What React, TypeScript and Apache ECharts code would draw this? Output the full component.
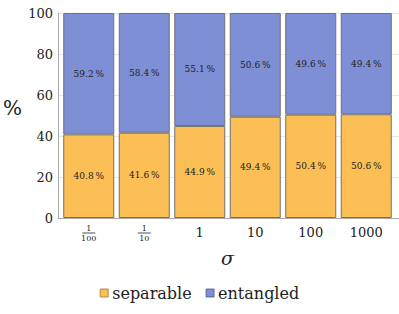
import React, { useEffect, useRef } from "react";
import * as echarts from "echarts";

const categories = ["1/100", "1/10", "1", "10", "100", "1000"];
const separable = [40.8, 41.6, 44.9, 49.4, 50.4, 50.6];
const entangled = [59.2, 58.4, 55.1, 50.6, 49.6, 49.4];

const FONT = "DejaVu Serif";

function labelFor(c: string): string {
  if (c.includes("/")) {
    const [n, d] = c.split("/");
    return `{n|${n}}\n{bar|}\n{d|${d}}`;
  }
  return `{m|${c}}`;
}

export default function App() {
  const ref = useRef<HTMLDivElement>(null);
  useEffect(() => {
    if (!ref.current) return;
    const chart = echarts.init(ref.current, null, { renderer: "svg" });
    const pct = (p: any) => `${Number(p.value).toFixed(1)}\u2009%`;
    const lbl = { show: true, position: "inside", formatter: pct, fontFamily: FONT, fontSize: 9, color: "#222" };
    chart.setOption({
      animation: false,
      textStyle: { fontFamily: FONT },
      grid: [
        { left: 50, right: 0, top: 13, bottom: 96 },
        { left: 61, right: 5, top: 13, bottom: 96 },
      ],
      legend: {
        top: 280,
        left: "center",
        itemWidth: 8,
        itemHeight: 8,
        itemGap: 14,
        icon: "rect",
        textStyle: { fontFamily: FONT, fontSize: 16, color: "#222", padding: [0, 0, 0, -1] },
        data: [
          { name: "separable", itemStyle: { borderColor: "#a07a30", borderWidth: 0.8 } },
          { name: "entangled", itemStyle: { borderColor: "#4a5590", borderWidth: 0.8 } },
        ],
      },
      xAxis: [
        {
          gridIndex: 0,
          type: "value",
          min: 0,
          max: 1,
          axisLine: { show: true, lineStyle: { color: "#aaa", width: 1 } },
          axisTick: { show: false },
          axisLabel: { show: false },
          splitLine: { show: false },
        },
        {
          gridIndex: 1,
          type: "category",
          data: categories,
          name: "σ",
          nameLocation: "middle",
          nameGap: 30,
          nameTextStyle: { fontFamily: FONT, fontSize: 19, fontStyle: "italic", color: "#222" },
          axisLine: { show: false },
          axisTick: { show: true, alignWithLabel: true, interval: 0, length: 3, inside: true, lineStyle: { color: "#888" } },
          axisLabel: {
            interval: 0,
            formatter: (v: string) => labelFor(v),
            color: "#222",
            margin: 6,
            rich: {
              m: { fontFamily: FONT, fontSize: 13, color: "#222", padding: [2, 0, 0, 0] },
              n: { fontFamily: FONT, fontSize: 8, color: "#222", lineHeight: 8, align: "center" },
              bar: { width: 13, height: 0.8, backgroundColor: "#222", lineHeight: 2, align: "center" },
              d: { fontFamily: FONT, fontSize: 8, color: "#222", lineHeight: 9, align: "center" },
            },
          },
        },
      ],
      yAxis: [
        {
          gridIndex: 0,
          type: "value",
          min: 0,
          max: 100,
          interval: 20,
          name: "%",
          nameLocation: "middle",
          nameRotate: 0,
          nameGap: 36,
          nameTextStyle: { fontFamily: FONT, fontSize: 20, color: "#222", verticalAlign: "bottom", lineHeight: 16 },
          axisLine: { show: true, lineStyle: { color: "#aaa", width: 1 } },
          axisTick: { show: false },
          splitLine: { show: true, lineStyle: { color: "#e6e6e6", width: 1 } },
          axisLabel: { color: "#222", fontFamily: FONT, fontSize: 13, margin: 5 },
        },
        {
          gridIndex: 1,
          type: "value",
          min: 0,
          max: 100,
          interval: 20,
          show: false,
          splitLine: { show: false },
        },
      ],
      series: [
        {
          name: "separable",
          type: "bar",
          stack: "total",
          xAxisIndex: 1,
          yAxisIndex: 1,
          barWidth: 51,
          data: separable,
          itemStyle: { color: "#FCBF56", borderColor: "#707070", borderWidth: 1 },
          label: lbl,
        },
        {
          name: "entangled",
          type: "bar",
          stack: "total",
          xAxisIndex: 1,
          yAxisIndex: 1,
          barWidth: 51,
          data: entangled,
          itemStyle: { color: "#7F8FD5", borderColor: "#707070", borderWidth: 1 },
          label: lbl,
        },
      ],
    });
    return () => chart.dispose();
  }, []);
  return <div ref={ref} style={{ width: 399, height: 314, position: "absolute", left: 0, top: 0 }} />;
}
